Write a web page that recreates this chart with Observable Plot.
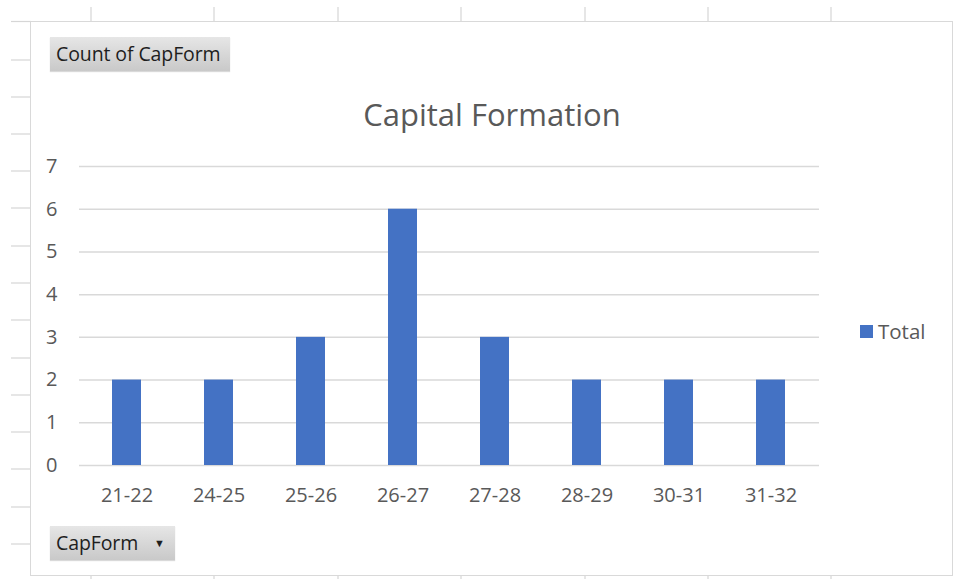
<!DOCTYPE html>
<html>
<head>
<meta charset="utf-8">
<script src="https://cdn.jsdelivr.net/npm/d3@7"></script>
<script src="https://cdn.jsdelivr.net/npm/@observablehq/plot@0.6"></script>
<style>
  html, body { margin: 0; padding: 0; background: #fff; }
  body { width: 954px; height: 579px; position: relative; overflow: hidden; font-family: "Open Sans", sans-serif; }
  #sheet { position: absolute; left: 0; top: 0; }
  #frame { position: absolute; left: 30px; top: 21px; width: 921px; height: 553px; border: 1.5px solid #d9d9d9; background: #fff; }
  #chart { position: absolute; left: 0; top: 0; }
  .btn { position: absolute; background: linear-gradient(#e6e6e6, #c9c9c9); color: #1e1e1e; font-size: 19.5px; letter-spacing: -0.1px; line-height: 34px; padding-left: 6px; box-sizing: border-box; box-shadow: 0 1px 1px rgba(0,0,0,0.15); }
  #title { position: absolute; left: 0; width: 984px; top: 93px; text-align: center; font-size: 31px; color: #595959; }
  #legend { position: absolute; left: 860px; top: 317px; font-size: 20.5px; color: #595959; display: flex; align-items: center; }
  #legend .sw { width: 13px; height: 13px; background: #4472C4; margin-right: 5px; }
</style>
</head>
<body>
<svg id="sheet" width="954" height="579"></svg>
<div id="frame"></div>
<div class="btn" style="left:50px; top:37px; width:180px; height:34px;">Count of CapForm</div>
<div class="btn" style="left:50px; top:526px; width:125px; height:34px;">CapForm<span style="position:absolute; left:104px; font-size:11px;">&#9660;</span></div>
<div id="title">Capital Formation</div>
<div id="legend"><div class="sw"></div><span>Total</span></div>
<div id="chart"></div>
<script>
// Count of CapForm per year range
const categories = ["21-22", "24-25", "25-26", "26-27", "27-28", "28-29", "30-31", "31-32"];
const totals = [2, 2, 3, 6, 3, 2, 2, 2];
const yTicks = [0, 1, 2, 3, 4, 5, 6, 7];

const data = categories.map((c, i) => ({ range: c, total: totals[i] }));

// Worksheet cell lines peeking out around the chart object
const rowLines = [60, 97, 134, 171, 208, 246, 283, 320, 358, 395, 432, 469, 507, 544];
const colLines = [91, 214, 338, 461, 585, 708, 831];
const sheet = d3.select("#sheet");
sheet.selectAll("line.r").data(rowLines).join("line")
  .attr("x1", 11).attr("x2", 30).attr("y1", d => d).attr("y2", d => d)
  .attr("stroke", "#d6d6d6").attr("stroke-width", 1.2);
sheet.append("line").attr("x1", 11).attr("x2", 31).attr("y1", 21.5).attr("y2", 21.5)
  .attr("stroke", "#d6d6d6").attr("stroke-width", 1.2);
sheet.selectAll("line.c").data(colLines).join("line")
  .attr("x1", d => d).attr("x2", d => d).attr("y1", 7).attr("y2", 21)
  .attr("stroke", "#d6d6d6").attr("stroke-width", 1.2);
sheet.selectAll("line.b").data(colLines).join("line")
  .attr("x1", d => d).attr("x2", d => d).attr("y1", 576).attr("y2", 579)
  .attr("stroke", "#d6d6d6").attr("stroke-width", 1.2);

const chart = Plot.plot({
  width: 954,
  height: 579,
  marginLeft: 79,
  marginRight: 135,
  marginTop: 166,
  marginBottom: 114,
  style: { background: "transparent", fontFamily: "Open Sans, sans-serif", fontSize: "20px", color: "#595959" },
  x: { domain: categories, paddingInner: 0.68, paddingOuter: 0.34, label: null },
  y: { domain: [0, 7], label: null },
  marks: [
    Plot.ruleY(yTicks, { stroke: "#d9d9d9", strokeWidth: 1.5, strokeOpacity: 1 }),
    Plot.barY(data, { x: "range", y: "total", fill: "#4472C4" }),
    Plot.axisY({ ticks: yTicks, tickSize: 0, tickPadding: 22, tickFormat: d => d, fill: "#595959", fontSize: 20 }),
    Plot.axisX({ tickSize: 0, tickPadding: 22, fill: "#595959", fontSize: 20 })
  ]
});
document.getElementById("chart").appendChild(chart);
</script>
</body>
</html>
